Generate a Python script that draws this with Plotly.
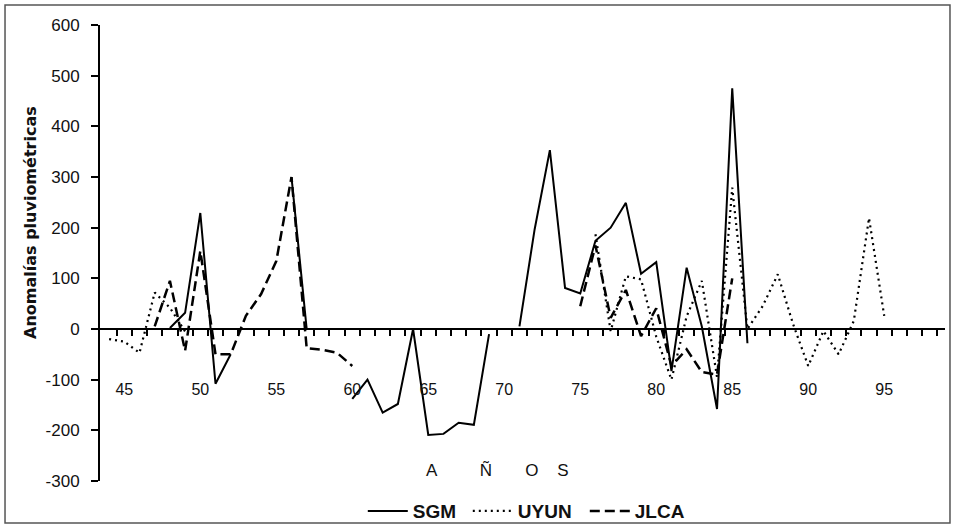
import plotly.graph_objects as go

years = list(range(44, 97))

sgm = [None, None, None, None, 2, 32, 229, -108, -50, None,
       None, None, 300, 0, None, None, -138, -100, -165, -148,
       0, -209, -207, -185, -189, -10, None, 5, 197, 353,
       81, 70, 174, 200, 249, 109, 132, -83, 121, 5,
       -158, 475, -28, None, None, None, None, None, None, None,
       None, None, None]

uyun = [-20, -25, -47, 72, 42, -5, None, None, None, None,
        None, None, None, None, None, None, None, None, None, None,
        None, None, None, None, None, None, None, None, None, None,
        None, None, 187, -4, 104, 98, -15, -100, 25, 95,
        -95, 279, 0, 45, 108, 10, -73, -4, -50, 16,
        219, 26, None]

jlca = [None, None, None, 5, 95, -43, 154, -50, -50, 26,
        69, 134, 300, -38, -41, -47, -73, None, None, None,
        None, None, None, None, None, None, None, None, None, None,
        None, 45, 165, 22, 77, -14, 41, -73, -40, -85,
        -90, 100, None, None, None, None, None, None, None, None,
        None, None, None]

x_tick_vals = [45, 50, 55, 60, 65, 70, 75, 80, 85, 90, 95]
x_tick_text = ["45", "50", "55", "60", "65", "70", "75", "80", "85", "90", "95"]
x_minor_vals = [v + 0.5 for v in range(44, 99)]
y_tick_vals = [-300, -200, -100, 0, 100, 200, 300, 400, 500, 600]
y_tick_text = ["-300", "-200", "-100", "0", "100", "200", "300", "400", "500", "600"]

FONT = "Liberation Sans, Arial, sans-serif"
NARROW = "Liberation Sans Narrow, Liberation Sans, Arial, sans-serif"
NB = "\u00a0"

fig = go.Figure()
fig.add_trace(go.Scatter(x=years, y=sgm, mode="lines", name="SGM", legendwidth=50,
                         line=dict(color="black", width=2)))
fig.add_trace(go.Scatter(x=years, y=uyun, mode="lines", name="UYUN", legendwidth=62,
                         line=dict(color="black", width=2.2, dash="2px,4px")))
fig.add_trace(go.Scatter(x=years, y=jlca, mode="lines", name="JLCA", legendwidth=60,
                         line=dict(color="black", width=2.5, dash="10px,5px")))

fig.update_layout(
    width=955, height=528,
    margin=dict(l=100, r=10, t=25, b=47),
    paper_bgcolor="white", plot_bgcolor="white",
    font=dict(family=FONT, color="#111"),
    xaxis=dict(range=[43.4, 99], anchor="free", position=1/3,
               showline=True, linecolor="black", linewidth=2,
               showgrid=False, zeroline=False, automargin=False,
               tickmode="array", tickvals=x_tick_vals, ticktext=x_tick_text,
               ticks="", ticklabelstandoff=46,
               tickfont=dict(size=16, family=FONT, color="#111"),
               minor=dict(tickmode="array", tickvals=x_minor_vals,
                          ticks="outside", ticklen=6, tickwidth=1.5,
                          tickcolor="black", showgrid=False)),
    yaxis=dict(range=[-300, 600], showline=True, linecolor="black", linewidth=2,
               showgrid=False, zeroline=False, automargin=False,
               tickmode="array", tickvals=y_tick_vals, ticktext=y_tick_text,
               ticks="outside", ticklen=7, tickwidth=1.5, tickcolor="black",
               ticklabelstandoff=8,
               tickfont=dict(size=17, family=FONT, color="#111")),
    showlegend=True,
    legend=dict(orientation="h", xref="paper", yref="container",
                x=0.311, y=0.032, xanchor="left", yanchor="middle",
                itemwidth=40,
                font=dict(size=19, family=NARROW, weight="bold", color="#111"),
                bgcolor="rgba(0,0,0,0)"),
    annotations=[
        dict(text="Anomalías pluviométricas", xref="paper", yref="paper",
             x=-0.0817, y=0.568, xanchor="center", yanchor="middle",
             textangle=-90, showarrow=False,
             font=dict(size=16, family="DejaVu Sans, " + FONT, weight="bold", color="#111")),
        dict(text="A" + NB * 9 + "Ñ" + NB * 7 + "O" + NB * 4 + "S",
             xref="paper", yref="paper", x=0.470, y=0.024,
             xanchor="center", yanchor="middle", showarrow=False,
             font=dict(size=17, family=FONT, color="#111")),
    ],
    shapes=[dict(type="rect", xref="paper", yref="paper",
                 x0=-0.1124, x1=1.0059, y0=-0.0921, y1=1.0439,
                 line=dict(color="#555", width=1.5))],
)

fig.write_html("out.html", config={"displayModeBar": False},
               post_script="document.body.style.margin='0px';")
